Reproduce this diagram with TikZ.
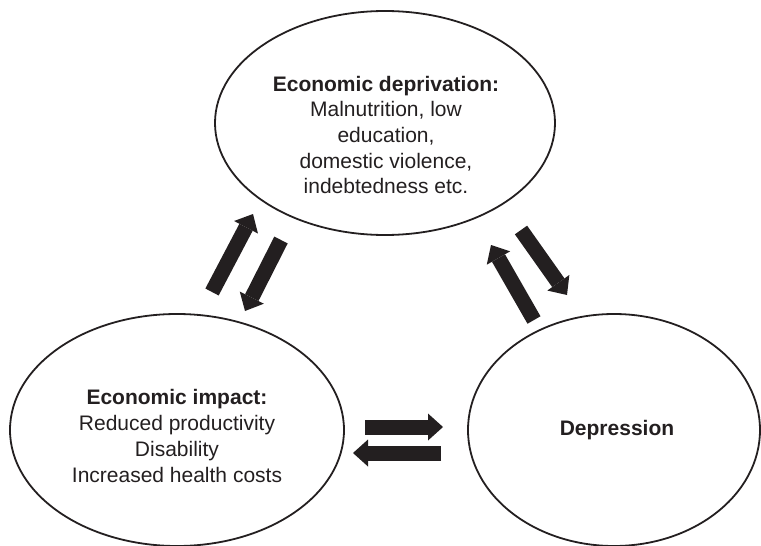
\documentclass[tikz,border=0pt]{standalone}
\usepackage{fontspec}
\setmainfont{Liberation Sans}
\usetikzlibrary{shapes.geometric,arrows.meta}
\definecolor{ink}{HTML}{231F20}
\begin{document}
\begin{tikzpicture}[x=1pt,y=-1pt,
  bubble/.style={draw=ink, line width=1.8pt, ellipse, inner sep=0pt},
  caption/.style={align=center, text=ink, font=\fontsize{21}{25.7}\selectfont},
  fatarrow/.style={draw=ink, line width=15pt, line cap=butt,
    -{Triangle[width=27pt,length=15pt,line width=0pt]}}]
  \useasboundingbox (0,0) rectangle (761,546);

  % the three states
  \node[bubble, minimum width=340pt, minimum height=224pt] (dep) at (385,123) {};
  \node[bubble, minimum width=334pt, minimum height=232pt] (imp) at (177,430) {};
  \node[bubble, minimum width=292pt, minimum height=232pt] (dpr) at (614,430) {};

  \node[caption] (deptext) at (386,135)
    {\textbf{Economic deprivation:}\\Malnutrition, low\\education,\\domestic violence,\\indebtedness etc.};
  \node[caption] (imptext) at (177,436)
    {\textbf{Economic impact:}\\Reduced productivity\\Disability\\Increased health costs};
  \node[caption] (dprtext) at (617,430) {\textbf{Depression}};

  % end points of the block arrows
  \coordinate (a1s) at (212,292); \coordinate (a1e) at (253,214);
  \coordinate (a2s) at (281,240); \coordinate (a2e) at (245,311);
  \coordinate (b1s) at (534,320); \coordinate (b1e) at (491,245);
  \coordinate (b2s) at (521,230); \coordinate (b2e) at (567,295);
  \coordinate (c1s) at (365,427); \coordinate (c1e) at (443,427);
  \coordinate (c2s) at (441,453); \coordinate (c2e) at (353,453);

  \draw[fatarrow] (a1s) -- (a1e);
  \draw[fatarrow] (a2s) -- (a2e);
  \draw[fatarrow] (b1s) -- (b1e);
  \draw[fatarrow] (b2s) -- (b2e);
  \draw[fatarrow] (c1s) -- (c1e);
  \draw[fatarrow] (c2s) -- (c2e);
\end{tikzpicture}
\end{document}
